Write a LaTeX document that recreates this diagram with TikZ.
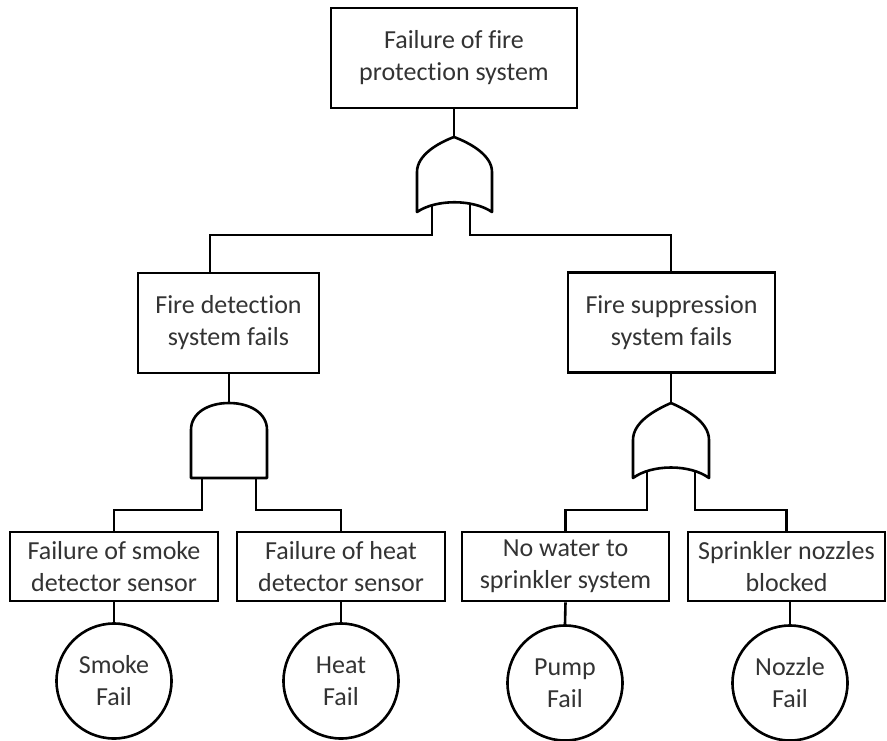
\documentclass[tikz,border=0pt]{standalone}
\usepackage{fontspec}
\setmainfont[Ligatures={NoCommon}]{Carlito}
\begin{document}
\begin{tikzpicture}[x=1pt,y=-1pt,line width=2.6pt,
  txt/.style={text=black!80,font=\fontsize{26}{32}\selectfont,align=center,inner sep=0pt},
  event/.style={txt,draw,rectangle},
  basic/.style={txt,draw,circle,minimum size=115pt},
  gate/.style={draw,fill=white,line join=round}]
\useasboundingbox (0,0) rectangle (887,740);

% events
\node[event,minimum width=246pt,minimum height=100pt] (top) at (454,58) {Failure of fire\\protection system};
\node[event,minimum width=181pt,minimum height=100pt] (det) at (228.5,323) {Fire detection\\system fails};
\node[event,minimum width=207pt,minimum height=100pt] (sup) at (671.5,322.5) {Fire suppression\\system fails};
\node[event,minimum width=208pt,minimum height=69pt] (smk) at (114,566.5) {Failure of smoke\\detector sensor};
\node[event,minimum width=208pt,minimum height=69pt] (hdt) at (341,566.5) {Failure of heat\\detector sensor};
\node[event,minimum width=207pt,minimum height=69pt] (nwt) at (565.5,566.5) {No water to\\sprinkler system};
\node[event,minimum width=197pt,minimum height=69pt] (spr) at (786.5,566.5) {Sprinkler nozzles\\blocked};

% basic events
\node[basic] (smkB) at (114,681) {Smoke\\Fail};
\node[basic] (hdtB) at (341,681) {Heat\\Fail};
\node[basic] (pmpB) at (565,683) {Pump\\Fail};
\node[basic] (nzlB) at (790,683) {Nozzle\\Fail};

% gate terminals
\coordinate (g1) at (454,137);
\coordinate (g1l) at (432,205);
\coordinate (g1r) at (470,205);
\coordinate (g2) at (229,403);
\coordinate (g2l) at (202,478);
\coordinate (g2r) at (256,478);
\coordinate (g3) at (671,403);
\coordinate (g3l) at (647,470);
\coordinate (g3r) at (695,470);

% entry points on the tops of the intermediate events
\coordinate (detIn) at (210,273);
\coordinate (supIn) at (671,273);

% connectors
\draw (top.south) -- (g1);
\draw (g1l) -- ++(0,30) -| (detIn);
\draw (g1r) -- ++(0,30) -| (supIn);
\draw (det.south -| g2) -- (g2);
\draw (sup.south -| g3) -- (g3);
\draw (g2l) -- ++(0,32) -| (smk.north);
\draw (g2r) -- ++(0,32) -| (hdt.north);
\draw (g3l) -- ++(0,40) -| (nwt.north);
\draw (g3r) -- ++(0,40) -| (spr.north);
\draw (smk.south) -- (smkB.north);
\draw (hdt.south) -- (hdtB.north);
\draw (nwt.south) -- (pmpB.north);
\draw (spr.south -| nzlB) -- (nzlB.north);

% OR gate under the top event
\draw[gate] (417,212) -- (417,172) .. controls (417,155) and (438,143) .. (g1)
  .. controls (470,143) and (492,155) .. (492,172) -- (492,212)
  .. controls (473,199) and (436,199) .. (417,212) -- cycle;
% AND gate under fire detection
\draw[gate] (191,478) -- (191,430) .. controls (191,413) and (208,403) .. (g2)
  .. controls (250,403) and (267,413) .. (267,430) -- (267,478) -- cycle;
% OR gate under fire suppression
\draw[gate] (633,478) -- (633,440) .. controls (633,422) and (655,410) .. (g3)
  .. controls (687,410) and (709,422) .. (709,440) -- (709,478)
  .. controls (690,464) and (652,464) .. (633,478) -- cycle;
\end{tikzpicture}
\end{document}
